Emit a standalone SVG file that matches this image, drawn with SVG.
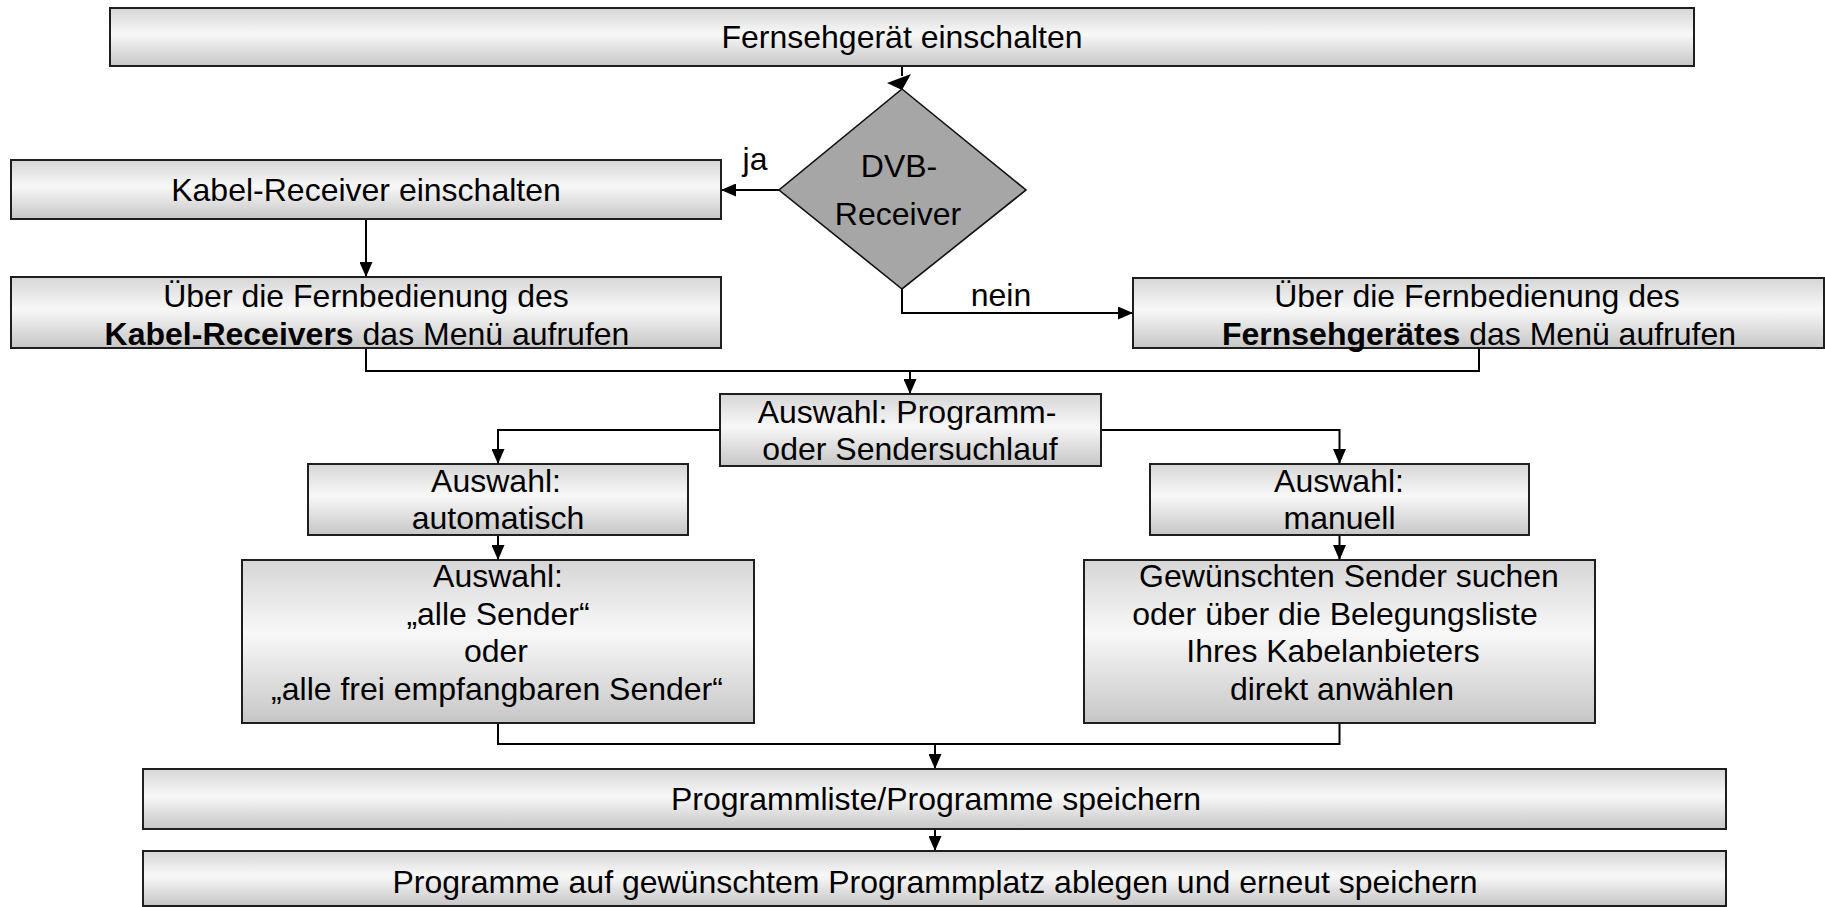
<svg xmlns="http://www.w3.org/2000/svg" width="1825" height="907" viewBox="0 0 1825 907">
<style>
.box{fill:url(#g);stroke:#1e1e1e;stroke-width:2}
.dia{fill:#a6a6a6;stroke:#111;stroke-width:1.6}
text{font-family:"Liberation Sans",Arial,sans-serif;font-size:32px;fill:#000;text-anchor:middle}
.b{font-weight:bold}
.c{fill:none;stroke:#000;stroke-width:2}
.ah{fill:#000}
</style>
<defs>
<linearGradient id="g" x1="0" y1="0" x2="0" y2="1">
<stop offset="0" stop-color="#d6d6d6"/>
<stop offset="0.45" stop-color="#f8f8f8"/>
<stop offset="1" stop-color="#c6c6c6"/>
</linearGradient>
<marker id="a" markerWidth="15" markerHeight="13" refX="15" refY="6.5" orient="auto" markerUnits="userSpaceOnUse">
<path class="ah" d="M0,0 L15,6.5 L0,13 z"/>
</marker>
</defs>

<g id="connectors">
<polyline class="c" points="902,66 902,76"/>
<polygon class="ah" points="911,74 887,83 902,90"/>
<polyline class="c" points="779,190 721,190" marker-end="url(#a)"/>
<polyline class="c" points="366,219 366,277" marker-end="url(#a)"/>
<polyline class="c" points="902,289 902,313 1133,313" marker-end="url(#a)"/>
<polyline class="c" points="366,348 366,371 1479,371 1479,348"/>
<polyline class="c" points="910,371 910,394" marker-end="url(#a)"/>
<polyline class="c" points="720,430 498,430 498,464" marker-end="url(#a)"/>
<polyline class="c" points="1101,430 1339.5,430 1339.5,464" marker-end="url(#a)"/>
<polyline class="c" points="498,535 498,560" marker-end="url(#a)"/>
<polyline class="c" points="1339.5,535 1339.5,560" marker-end="url(#a)"/>
<polyline class="c" points="498,723 498,744 1339.5,744 1339.5,723"/>
<polyline class="c" points="935,744 935,769" marker-end="url(#a)"/>
<polyline class="c" points="935,829 935,851" marker-end="url(#a)"/>
<text x="755" y="170">ja</text>
<text x="1001" y="306">nein</text>
</g>

<g id="n-start">
<rect class="box" x="110" y="8" width="1584" height="58"/>
<text x="902" y="48">Fernsehgerät einschalten</text>
</g>

<g id="n-dvb">
<polygon class="dia" points="902,89 1026,190 902,289 779,190"/>
<text x="899" y="177">DVB-</text>
<text x="898" y="225">Receiver</text>
</g>

<g id="n-kabel">
<rect class="box" x="11" y="160" width="710" height="59"/>
<text x="366" y="201">Kabel-Receiver einschalten</text>
</g>

<g id="n-menu-kabel">
<rect class="box" x="11" y="277" width="710" height="71"/>
<text x="366" y="307">Über die Fernbedienung des</text>
<text x="367" y="345"><tspan class="b">Kabel-Receivers</tspan> das Menü aufrufen</text>
</g>

<g id="n-menu-tv">
<rect class="box" x="1133" y="278" width="691" height="70"/>
<text x="1477" y="307">Über die Fernbedienung des</text>
<text x="1479" y="345"><tspan class="b">Fernsehgerätes</tspan> das Menü aufrufen</text>
</g>

<g id="n-suchlauf">
<rect class="box" x="720" y="394" width="381" height="72"/>
<text x="907" y="423">Auswahl: Programm-</text>
<text x="910" y="460">oder Sendersuchlauf</text>
</g>

<g id="n-auto">
<rect class="box" x="308" y="464" width="380" height="71"/>
<text x="496" y="492">Auswahl:</text>
<text x="498" y="529">automatisch</text>
</g>

<g id="n-manuell">
<rect class="box" x="1150" y="464" width="379" height="71"/>
<text x="1339" y="492">Auswahl:</text>
<text x="1339.5" y="529">manuell</text>
</g>

<g id="n-alle">
<rect class="box" x="242" y="560" width="512" height="163"/>
<text x="498" y="587">Auswahl:</text>
<text x="498" y="625">„alle Sender“</text>
<text x="496" y="662">oder</text>
<text x="497" y="700">„alle frei empfangbaren Sender“</text>
</g>

<g id="n-gewuenscht">
<rect class="box" x="1084" y="560" width="511" height="163"/>
<text x="1349" y="587">Gewünschten Sender suchen</text>
<text x="1335" y="625">oder über die Belegungsliste</text>
<text x="1333" y="662">Ihres Kabelanbieters</text>
<text x="1342" y="700">direkt anwählen</text>
</g>

<g id="n-speichern">
<rect class="box" x="143" y="769" width="1583" height="60"/>
<text x="936" y="810">Programmliste/Programme speichern</text>
</g>

<g id="n-ablegen">
<rect class="box" x="143" y="851" width="1583" height="55"/>
<text x="935" y="893">Programme auf gewünschtem Programmplatz ablegen und erneut speichern</text>
</g>
</svg>
